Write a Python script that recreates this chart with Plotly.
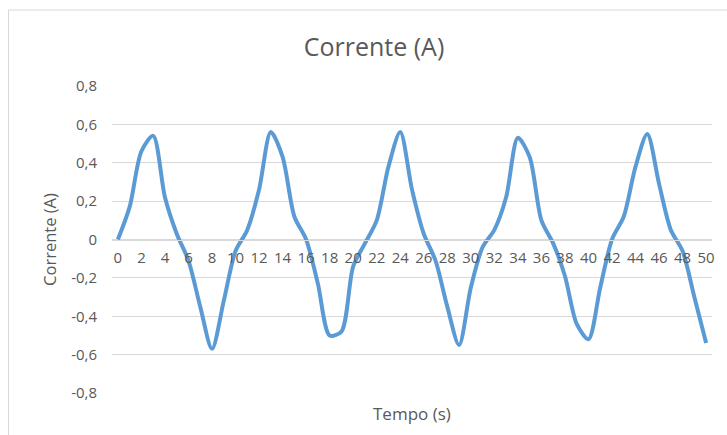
import plotly.graph_objects as go

tempo = list(range(0, 51))
corrente = [
    0.00, 0.17, 0.46, 0.54, 0.22, 0.03, -0.11, -0.35, -0.57, -0.32,
    -0.06, 0.05, 0.26, 0.56, 0.43, 0.12, 0.00, -0.23, -0.50, -0.48,
    -0.14, -0.02, 0.10, 0.38, 0.56, 0.26, 0.03, -0.11, -0.35, -0.55,
    -0.25, -0.04, 0.05, 0.22, 0.53, 0.43, 0.10, -0.02, -0.19, -0.44,
    -0.52, -0.25, 0.00, 0.12, 0.38, 0.55, 0.29, 0.05, -0.06, -0.30,
    -0.54,
]
x_ticks = list(range(0, 51, 2))
y_ticks = [-0.8, -0.6, -0.4, -0.2, 0, 0.2, 0.4, 0.6, 0.8]

W, H = 727, 435
ML, MR, MT, MB = 112, 12, 86, 42
PW = W - ML - MR
PH = H - MT - MB

txt = "#595959"
font = "Open Sans, DejaVu Sans, sans-serif"

fig = go.Figure()
fig.add_trace(go.Scatter(
    x=tempo, y=corrente, mode="lines",
    line=dict(color="#5B9BD5", width=4, shape="spline", smoothing=0.8),
    hoverinfo="skip", showlegend=False,
))

fig.update_layout(
    width=W, height=H,
    margin=dict(l=ML, r=MR, t=MT, b=MB),
    paper_bgcolor="white", plot_bgcolor="white",
    separators=",.",
    font=dict(family=font, color=txt, size=13),
    title=dict(text="Corrente (A)", x=374 / W, xanchor="center",
               y=1 - 47 / H, yanchor="middle", yref="container",
               font=dict(size=25, color=txt, family=font)),
    xaxis=dict(range=[-0.5, 50.5], tickmode="array", tickvals=x_ticks,
               ticktext=[str(v) for v in x_ticks],
               showgrid=False, zeroline=False, showline=True,
               linecolor="#d9d9d9", linewidth=1,
               anchor="free", position=0.5, ticks="",
               ticklabelstandoff=4,
               tickfont=dict(size=15, color=txt)),
    yaxis=dict(range=[-0.8, 0.8], tickmode="array", tickvals=y_ticks,
               ticktext=[f"{v:.1f}".replace(".", ",") if v != 0 else "0" for v in y_ticks],
               showgrid=True, gridcolor="#d9d9d9", gridwidth=1,
               zeroline=False, showline=False, ticks="",
               ticklabelstandoff=14,
               tickfont=dict(size=15, color=txt),
               title=dict(text="Corrente (A)", standoff=10,
                          font=dict(size=16.5, color=txt))),
    annotations=[dict(
        text="Tempo (s)", xref="paper", yref="paper",
        x=(413 - ML) / PW, y=(H - 413 - MB) / PH, xanchor="center", yanchor="middle",
        showarrow=False, font=dict(size=17, color=txt, family=font),
    )],
    shapes=[dict(
        type="rect", xref="paper", yref="paper",
        x0=(8 - ML) / PW, x1=(W + 5 - ML) / PW,
        y0=(-5 - MB) / PH, y1=(H - 10 - MB) / PH,
        line=dict(color="#d9d9d9", width=1), fillcolor="rgba(0,0,0,0)",
        layer="below",
    )],
)

fig.write_html("out.html")
